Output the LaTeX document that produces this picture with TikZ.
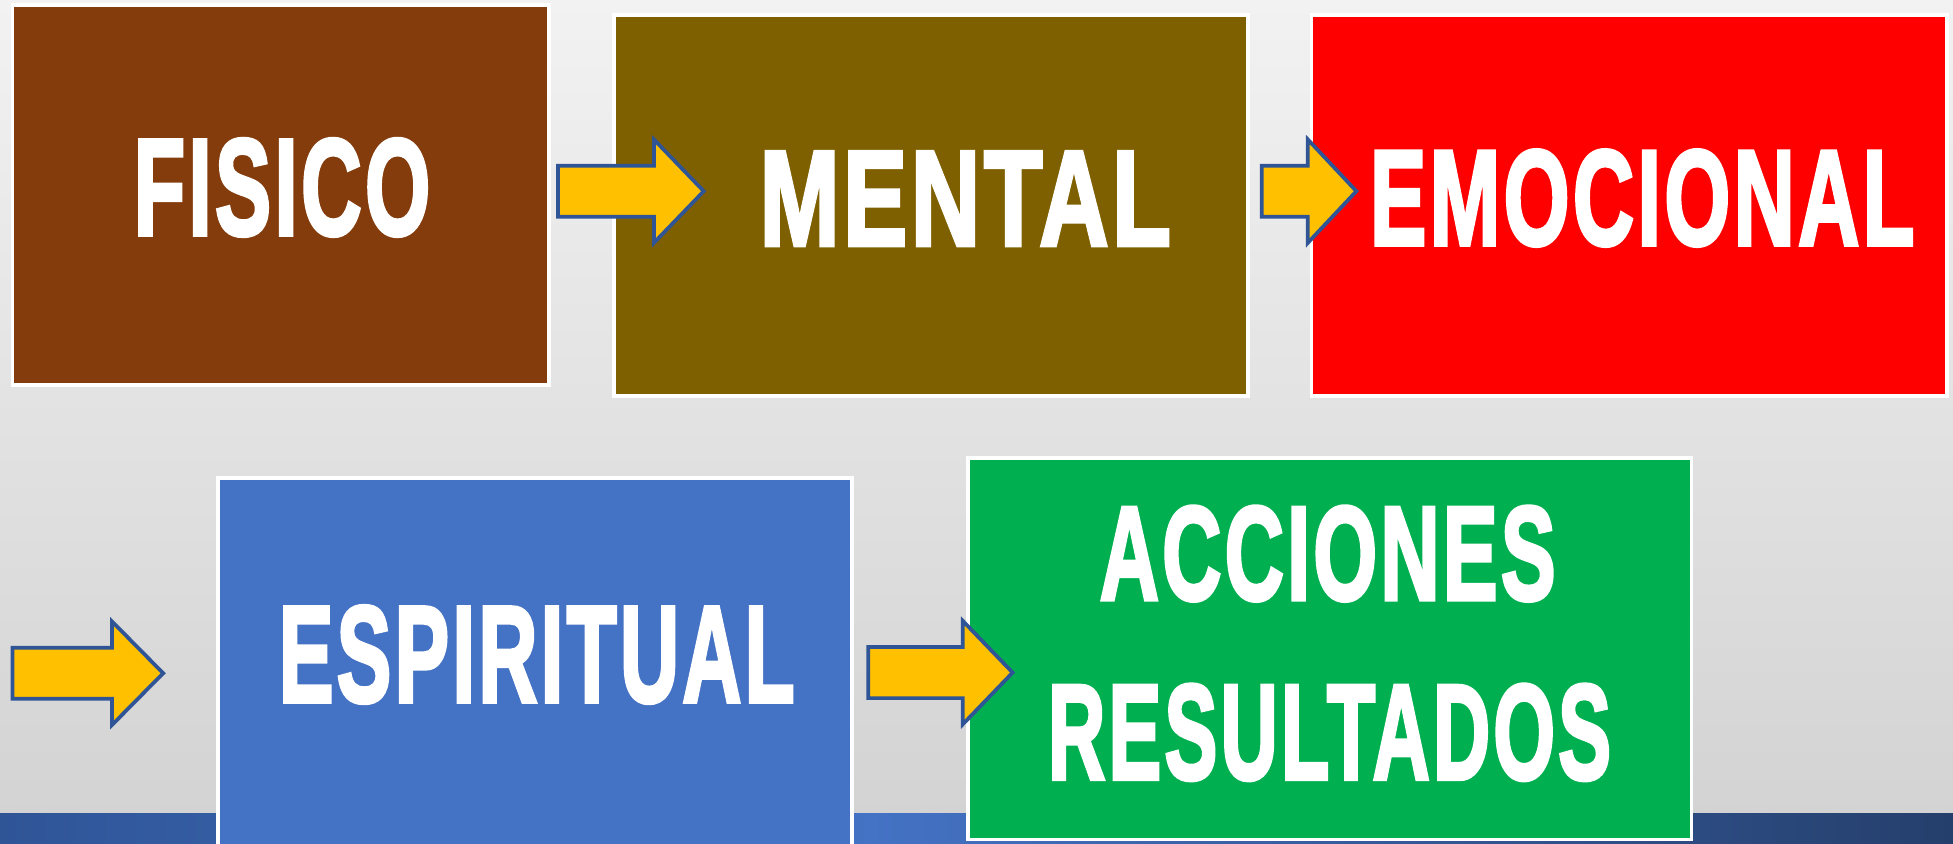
\documentclass[tikz,border=0pt]{standalone}
\usepackage{fontspec}
\setmainfont{Liberation Sans}[BoldFeatures={FakeBold=3,LetterSpace=4}]
\usepackage{xcolor}
\usepackage{tikz}

\definecolor{fisico}{HTML}{843C0C}
\definecolor{mental}{HTML}{7F6000}
\definecolor{emocional}{HTML}{FF0000}
\definecolor{espiritual}{HTML}{4472C4}
\definecolor{acciones}{HTML}{00B050}
\definecolor{flecha}{HTML}{FFC000}
\definecolor{bordeflecha}{HTML}{2F5597}
\definecolor{bandaizq}{HTML}{2F5597}
\definecolor{bandamed}{HTML}{4472C4}
\definecolor{bandader}{HTML}{253F6C}

\newlength\px
\setlength\px{0.02491cm}
\newcommand\etapa[3]{\resizebox{#1\px}{#2\px}{\bfseries #3}}

\tikzset{
  caja/.style={draw=white, line width=3\px, inner sep=0pt, outer sep=0pt},
  rotulo/.style={text=white, inner sep=0pt},
  flechaestilo/.style={fill=flecha, draw=bordeflecha, line width=3\px, line join=miter},
  pics/flecha/.style 2 args={code={
    \draw[flechaestilo] (0,-20.5) -- ({#1-#2},-20.5) -- ({#1-#2},-41.5) -- (#1,0)
      -- ({#1-#2},41.5) -- ({#1-#2},20.5) -- (0,20.5) -- cycle;}}
}

\begin{document}
\begin{tikzpicture}[x=1\px,y=-1\px]
\clip (0,0) rectangle (1568,677.6);
% fondo
\shade[top color={rgb,255:red,242;green,242;blue,242}, bottom color={rgb,255:red,210;green,210;blue,210}]
  (0,0) rectangle (1568,677.6);
\shade[left color=bandaizq, right color=bandamed] (0,653) rectangle (700,677.6);
\shade[left color=bandamed, right color=bandader] (700,653) rectangle (1568,677.6);

% cajas
\node[caja, fill=fisico, minimum width=431\px, minimum height=305\px] (fisico) at (225.5,156.5) {};
\node[caja, fill=mental, minimum width=509\px, minimum height=306\px] (mental) at (747.5,165) {};
\node[caja, fill=emocional, minimum width=510\px, minimum height=306\px] (emocional) at (1308,165) {};
\node[caja, fill=espiritual, minimum width=509\px, minimum height=320\px] (espiritual) at (429.5,544) {};
\node[caja, fill=acciones, minimum width=581\px, minimum height=306\px] (acciones) at (1067.5,521) {};

% textos
\node[rotulo] (fisico-txt) at (226.5,150.5) {\etapa{238}{77}{FISICO}};
\node[rotulo] (mental-txt) at (775,159.5) {\etapa{330}{75}{MENTAL}};
\node[rotulo] (emocional-txt) at (1318.5,159) {\etapa{437}{76}{EMOCIONAL}};
\node[rotulo] (espiritual-txt) at (431,525.5) {\etapa{414}{77}{ESPIRITUAL}};
\node[rotulo] (acciones-txt) at (1066,444.5) {\etapa{366}{75}{ACCIONES}};
\node[rotulo] (resultados-txt) at (1067.5,588) {\etapa{452}{76}{RESULTADOS}};

% flechas
\pic at (448,153.5) {flecha={117}{40}};
\pic at (1013,153.5) {flecha={76}{39}};
\pic at (10,540.5) {flecha={121}{41}};
\pic at (697,540) {flecha={116}{40}};
\end{tikzpicture}
\end{document}
